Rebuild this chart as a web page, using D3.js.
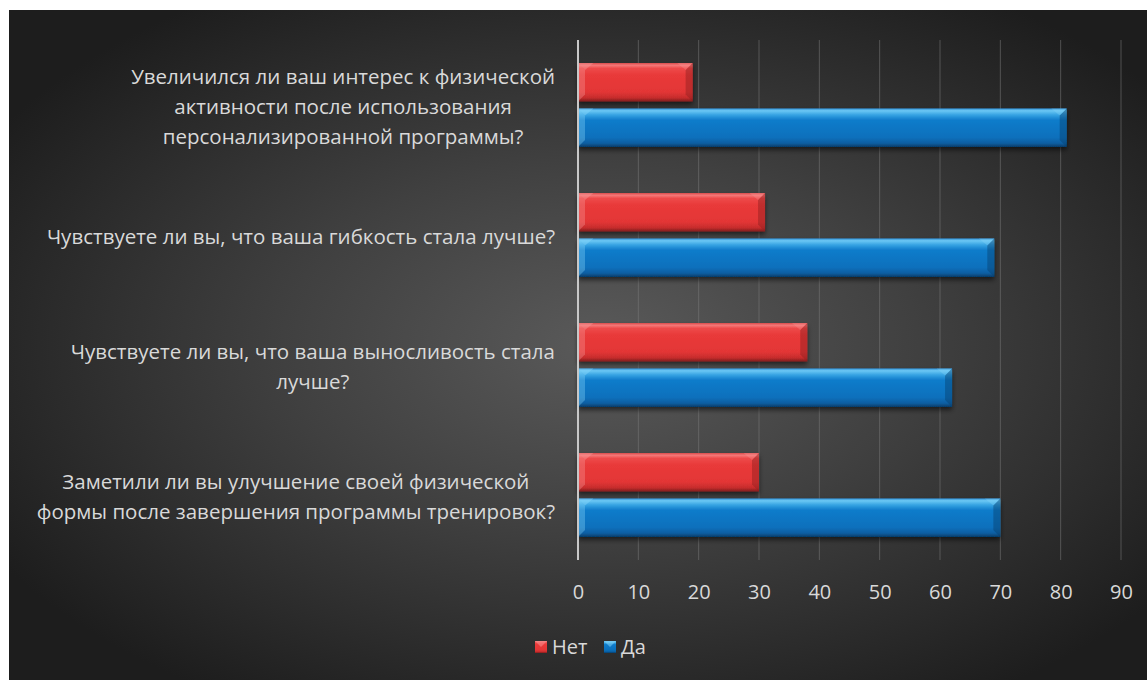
<!DOCTYPE html>
<html>
<head>
<meta charset="utf-8">
<script src="https://cdn.jsdelivr.net/npm/d3@7"></script>
<style>
  html, body { margin: 0; padding: 0; background: #ffffff; }
  svg { display: block; }
  text { font-family: "Open Sans", "Noto Sans", sans-serif; fill: #d9d9d9; }
</style>
</head>
<body>
<svg id="chart" width="1147" height="680"></svg>
<script>
// ---------- data ----------
const categories = [
  "Увеличился ли ваш интерес к физической активности после использования персонализированной программы?",
  "Чувствуете ли вы, что ваша гибкость стала лучше?",
  "Чувствуете ли вы, что ваша выносливость стала лучше?",
  "Заметили ли вы улучшение своей физической формы после завершения программы тренировок?"
];
const categoryLines = [
  ["Увеличился ли ваш интерес к физической", "активности после использования", "персонализированной программы?"],
  ["Чувствуете ли вы, что ваша гибкость стала лучше?"],
  ["Чувствуете ли вы, что ваша выносливость стала", "лучше?"],
  ["Заметили ли вы улучшение своей физической", "формы после завершения программы тренировок?"]
];
const seriesNames = ["Нет", "Да"];
const valuesNo  = [19, 31, 38, 30];
const valuesYes = [81, 69, 62, 70];
const tickValues = [0, 10, 20, 30, 40, 50, 60, 70, 80, 90];

// ---------- layout ----------
const W = 1147, H = 680;
const svg = d3.select("#chart");
const defs = svg.append("defs");

// background radial gradient
const bg = defs.append("radialGradient").attr("id", "bgGrad")
  .attr("cx", "52%").attr("cy", "50%").attr("r", "62%");
[["0%", "#5a5a5a"], ["45%", "#404040"], ["100%", "#1d1d1d"]].forEach(([o, c]) =>
  bg.append("stop").attr("offset", o).attr("stop-color", c));

// bar gradients
function vGrad(id, stops) {
  const g = defs.append("linearGradient").attr("id", id)
    .attr("x1", 0).attr("y1", 0).attr("x2", 0).attr("y2", 1);
  stops.forEach(([o, c]) => g.append("stop").attr("offset", o).attr("stop-color", c));
}
vGrad("redGrad", [["0%", "#d94a4a"], ["6%", "#f47878"], ["14%", "#ee4a4a"], ["30%", "#e93a3a"],
                  ["75%", "#e33636"], ["90%", "#c62c2c"], ["100%", "#7e1c1c"]]);
vGrad("blueGrad", [["0%", "#2f8fd6"], ["6%", "#6cc8f4"], ["16%", "#3aa6e4"], ["30%", "#0f7ccb"],
                   ["75%", "#0a70bc"], ["90%", "#095ea2"], ["100%", "#063c68"]]);

const shadow = defs.append("filter").attr("id", "shadow")
  .attr("x", "-5%").attr("y", "-20%").attr("width", "110%").attr("height", "160%");
shadow.append("feDropShadow").attr("dx", 0).attr("dy", 3).attr("stdDeviation", 2.5)
  .attr("flood-color", "#000").attr("flood-opacity", 0.55);

// background panel
svg.append("rect").attr("x", 9).attr("y", 10).attr("width", W - 9).attr("height", H - 10)
  .attr("fill", "url(#bgGrad)");

// scales
const x = d3.scaleLinear().domain([0, 90]).range([578, 1121]);
const y = d3.scaleBand().domain(categories).range([40, 560]);
const yInner = d3.scaleBand().domain(seriesNames)
  .range([23, y.bandwidth() - 23]).paddingInner(0.15);

// gridlines
svg.append("g").selectAll("line").data(tickValues.slice(1)).join("line")
  .attr("x1", d => x(d)).attr("x2", d => x(d))
  .attr("y1", 40).attr("y2", 560)
  .attr("stroke", "#7a7a7a").attr("stroke-opacity", 0.55).attr("stroke-width", 1);

// bars
const seriesData = [
  { name: "Нет", values: valuesNo, grad: "redGrad", light: "#f79a9a", dark: "#8f2020" },
  { name: "Да", values: valuesYes, grad: "blueGrad", light: "#8ad8fa", dark: "#06406f" }
];
const bev = 7;
const barsG = svg.append("g");
seriesData.forEach(s => {
  categories.forEach((c, i) => {
    const x0 = x(0), x1 = x(s.values[i]);
    const y0 = y(c) + yInner(s.name), h = yInner.bandwidth(), y1 = y0 + h;
    const g = barsG.append("g");
    g.append("rect").attr("x", x0).attr("y", y0).attr("width", x1 - x0).attr("height", h)
      .attr("fill", `url(#${s.grad})`).attr("filter", "url(#shadow)");
    g.append("path")
      .attr("d", `M${x0},${y0} L${x0 + bev},${y0 + bev} L${x0 + bev},${y1 - bev} L${x0},${y1} Z`)
      .attr("fill", s.light).attr("opacity", 0.35);
    g.append("path")
      .attr("d", `M${x0},${y0} L${x0 + bev * 2.2},${y0} L${x0 + bev},${y0 + bev} Z`)
      .attr("fill", s.light).attr("opacity", 0.45);
    g.append("path")
      .attr("d", `M${x1},${y0} L${x1 - bev},${y0 + bev} L${x1 - bev},${y1 - bev} L${x1},${y1} Z`)
      .attr("fill", s.dark).attr("opacity", 0.45);
    g.append("path")
      .attr("d", `M${x1},${y0} L${x1 - bev * 2.2},${y0} L${x1 - bev},${y0 + bev} Z`)
      .attr("fill", s.light).attr("opacity", 0.3);
  });
});

// zero axis line
svg.append("line").attr("x1", x(0)).attr("x2", x(0)).attr("y1", 40).attr("y2", 560)
  .attr("stroke", "#c8c8c8").attr("stroke-width", 2);

// x axis labels
const axis = d3.axisBottom(x).tickValues(tickValues).tickSize(0).tickPadding(25)
  .tickFormat(d3.format("d"));
const axG = svg.append("g").attr("transform", "translate(0,560)").call(axis);
axG.select(".domain").remove();
axG.selectAll("text").style("font-size", "20px").attr("fill", "#d9d9d9")
  .style("font-family", '"Open Sans", "Noto Sans", sans-serif');

// category labels: each block right-aligned at 555, lines centered within block
const lineH = 30, labelRight = 555, fontSize = 20.5;
categories.forEach((c, i) => {
  const lines = categoryLines[i];
  const g = svg.append("g");
  const cy = y(c) + y.bandwidth() / 2 + 2;
  const texts = g.selectAll("text").data(lines).join("text")
    .attr("text-anchor", "middle")
    .attr("y", (d, k) => cy + (k - (lines.length - 1) / 2) * lineH)
    .attr("dy", "0.35em")
    .style("font-size", fontSize + "px")
    .text(d => d);
  let maxW = 0;
  texts.each(function () { maxW = Math.max(maxW, this.getComputedTextLength()); });
  texts.attr("x", labelRight - maxW / 2);
});

// legend
const legend = svg.append("g").attr("transform", "translate(0,647)");
const legendItems = [
  { name: seriesNames[0], x: 535, grad: "redGrad", light: "#f79a9a" },
  { name: seriesNames[1], x: 604, grad: "blueGrad", light: "#8ad8fa" }
];
legendItems.forEach(it => {
  legend.append("rect").attr("x", it.x).attr("y", -6).attr("width", 12).attr("height", 12)
    .attr("fill", `url(#${it.grad})`);
  legend.append("path")
    .attr("d", `M${it.x},${-6} L${it.x + 12},${-6} L${it.x + 6},${0} Z`)
    .attr("fill", it.light).attr("opacity", 0.5);
  legend.append("text").attr("x", it.x + 17).attr("y", 0).attr("dy", "0.35em")
    .style("font-size", "20px").text(it.name);
});
</script>
</body>
</html>
